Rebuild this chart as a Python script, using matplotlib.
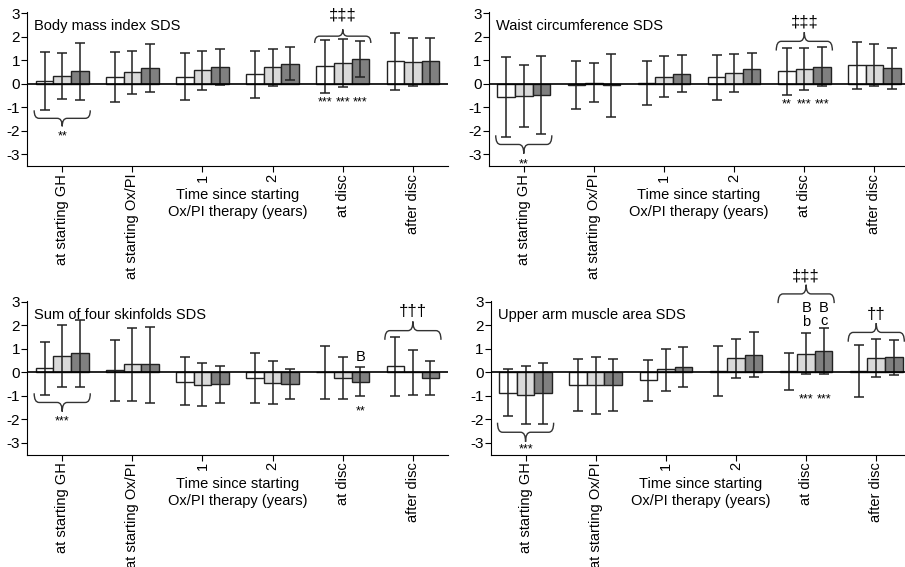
import matplotlib
matplotlib.use("Agg")
import matplotlib.pyplot as plt
import numpy as np
from matplotlib.path import Path
from matplotlib.patches import PathPatch

plt.rcParams['font.family'] = ['Liberation Sans', 'DejaVu Sans']
plt.rcParams['axes.unicode_minus'] = False

categories = ["at starting GH", "at starting Ox/PI", "1", "2", "at disc", "after disc"]
bar_colors = ["white", "#d9d9d9", "#808080"]

# body mass index SDS: mean / upper / lower, one row per series
bmi_mean = [[0.10, 0.30, 0.30, 0.42, 0.75, 0.95],
            [0.34, 0.48, 0.57, 0.71, 0.88, 0.92],
            [0.54, 0.66, 0.71, 0.85, 1.05, 0.96]]
bmi_hi = [[1.34, 1.34, 1.30, 1.41, 1.87, 2.16],
          [1.30, 1.39, 1.39, 1.49, 1.88, 1.94],
          [1.75, 1.68, 1.47, 1.56, 1.81, 1.94]]
bmi_lo = [[-1.13, -0.76, -0.69, -0.61, -0.38, -0.25],
          [-0.65, -0.44, -0.25, -0.11, -0.13, -0.11],
          [-0.68, -0.34, -0.07, 0.14, 0.28, -0.03]]

waist_mean = [[-0.57, -0.06, 0.04, 0.27, 0.54, 0.78],
              [-0.51, 0.05, 0.30, 0.47, 0.64, 0.79],
              [-0.47, -0.07, 0.41, 0.64, 0.72, 0.66]]
waist_hi = [[1.13, 0.96, 0.96, 1.20, 1.53, 1.77],
            [0.81, 0.89, 1.16, 1.27, 1.53, 1.67],
            [1.17, 1.27, 1.20, 1.32, 1.57, 1.53]]
waist_lo = [[-2.26, -1.06, -0.92, -0.69, -0.50, -0.23],
            [-1.85, -0.78, -0.58, -0.37, -0.25, -0.08],
            [-2.12, -1.40, -0.37, -0.03, -0.11, -0.23]]

skin_mean = [[0.17, 0.10, -0.40, -0.26, 0.0, 0.27],
             [0.68, 0.34, -0.54, -0.44, -0.26, 0.0],
             [0.81, 0.34, -0.51, -0.51, -0.40, -0.24]]
skin_hi = [[1.28, 1.38, 0.64, 0.81, 1.12, 1.50],
           [1.99, 1.90, 0.38, 0.47, 0.64, 0.96],
           [2.24, 1.94, 0.27, 0.14, 0.24, 0.50]]
skin_lo = [[-0.95, -1.21, -1.40, -1.29, -1.13, -0.99],
           [-0.64, -1.23, -1.45, -1.36, -1.13, -0.96],
           [-0.64, -1.32, -1.30, -1.12, -1.02, -0.96]]

arm_mean = [[-0.89, -0.55, -0.34, 0.07, 0.04, 0.07],
            [-0.98, -0.55, 0.13, 0.60, 0.79, 0.60],
            [-0.88, -0.55, 0.24, 0.75, 0.92, 0.64]]
arm_hi = [[0.13, 0.55, 0.51, 1.12, 0.82, 1.18],
          [0.27, 0.65, 1.01, 1.43, 1.69, 1.40],
          [0.40, 0.58, 1.06, 1.73, 1.90, 1.38]]
arm_lo = [[-1.87, -1.65, -1.22, -1.01, -0.74, -1.05],
          [-2.21, -1.76, -0.81, -0.23, -0.09, -0.20],
          [-2.18, -1.66, -0.61, -0.21, -0.07, -0.13]]


def brace(ax, xc, y, h, half=0.4):
    # curly brace, open ends at y, tip at y+h
    x0, x1 = xc - half, xc + half
    ym = y + h * 0.5
    d = 0.07
    verts = [(x0, y), (x0, ym), (x0 + d, ym),
             (xc - d, ym), (xc, ym), (xc, y + h),
             (xc, ym), (xc + d, ym),
             (x1 - d, ym), (x1, ym), (x1, y)]
    codes = [Path.MOVETO, Path.CURVE3, Path.CURVE3,
             Path.LINETO, Path.CURVE3, Path.CURVE3,
             Path.CURVE3, Path.CURVE3,
             Path.LINETO, Path.CURVE3, Path.CURVE3]
    ax.add_patch(PathPatch(Path(verts, codes), fill=False, lw=1.0,
                           ec="#333333", clip_on=False))


def panel(ax, title, mean, hi, lo):
    x = np.arange(len(categories))
    w = 0.25
    for i in range(3):
        m = np.array(mean[i])
        yerr = [m - np.array(lo[i]), np.array(hi[i]) - m]
        ax.bar(x + (i - 1) * w, m, w, color=bar_colors[i], edgecolor="#222222",
               linewidth=1.0, zorder=2)
        ax.errorbar(x + (i - 1) * w, m, yerr=yerr, fmt="none", ecolor="#222222",
                    elinewidth=1.1, capsize=3.6, capthick=1.1, zorder=3)
    ax.axhline(0, color="black", lw=1.2, zorder=4)
    ax.set_xlim(-0.5, 5.5)
    ax.set_ylim(-3.5, 3.05)
    ax.set_yticks([-3, -2, -1, 0, 1, 2, 3])
    ax.set_xticks(x)
    ax.set_xticklabels(categories, rotation=90, fontsize=10.5)
    ax.tick_params(axis="y", labelsize=11, length=4, pad=1)
    ax.tick_params(axis="x", length=4, pad=1.5)
    ax.spines["top"].set_visible(False)
    ax.spines["right"].set_visible(False)
    ax.spines["bottom"].set_bounds(-0.5, 5.5)
    ax.text(-0.4, 2.45, title, fontsize=10.5, va="center", ha="left")
    ax.annotate("Time since starting\nOx/PI therapy (years)", xy=(2.5, 0),
                xycoords=("data", "axes fraction"), xytext=(0, -16),
                textcoords="offset points", ha="center", va="top",
                fontsize=10.5, linespacing=1.25)


fig = plt.figure(figsize=(9.05, 5.67), dpi=100)
ax1 = fig.add_axes([0.030, 0.707, 0.465, 0.272])
ax2 = fig.add_axes([0.540, 0.707, 0.465, 0.272])
ax3 = fig.add_axes([0.030, 0.198, 0.465, 0.272])
ax4 = fig.add_axes([0.542, 0.198, 0.465, 0.272])

panel(ax1, "Body mass index SDS", bmi_mean, bmi_hi, bmi_lo)
panel(ax2, "Waist circumference SDS", waist_mean, waist_hi, waist_lo)
panel(ax3, "Sum of four skinfolds SDS", skin_mean, skin_hi, skin_lo)
panel(ax4, "Upper arm muscle area SDS", arm_mean, arm_hi, arm_lo)

star = dict(fontsize=9, ha="center", va="center")
sym = dict(fontsize=12, ha="center", va="center")
let = dict(fontsize=10.5, ha="center", va="center")

# body mass index
brace(ax1, 0, -1.13, -0.68)
ax1.text(0, -2.25, "**", **star)
brace(ax1, 4, 1.73, 0.58)
ax1.text(4, 2.9, "\u2021\u2021\u2021", clip_on=False, **sym)
for xs in (3.75, 4.0, 4.25):
    ax1.text(xs, -0.8, "***", **star)

# waist
brace(ax2, 0, -2.19, -0.78)
ax2.text(0, -3.42, "**", **star)
brace(ax2, 4, 1.41, 0.78)
ax2.text(4, 2.62, "\u2021\u2021\u2021", **sym)
for xs, s in zip((3.75, 4.0, 4.25), ("**", "***", "***")):
    ax2.text(xs, -0.88, s, **star)

# skinfolds
brace(ax3, 0, -0.89, -0.78)
ax3.text(0, -2.1, "***", **star)
ax3.text(4.25, 0.64, "B", **let)
ax3.text(4.25, -1.66, "**", **star)
brace(ax3, 5, 1.38, 0.78)
ax3.text(5, 2.58, "\u2020\u2020\u2020", **sym)

# upper arm muscle area
brace(ax4, 0, -2.14, -0.81)
ax4.text(0, -3.26, "***", **star)
brace(ax4, 4, 2.94, 0.78)
ax4.text(4, 4.07, "\u2021\u2021\u2021", clip_on=False, **sym)
ax4.text(4.0, 2.74, "B", **let)
ax4.text(4.25, 2.74, "B", **let)
ax4.text(4.0, 2.14, "b", **let)
ax4.text(4.25, 2.2, "c", **let)
for xs in (4.0, 4.25):
    ax4.text(xs, -1.16, "***", **star)
brace(ax4, 5, 1.30, 0.79)
ax4.text(5, 2.44, "\u2020\u2020", **sym)

fig.savefig("out.png", dpi=100)
